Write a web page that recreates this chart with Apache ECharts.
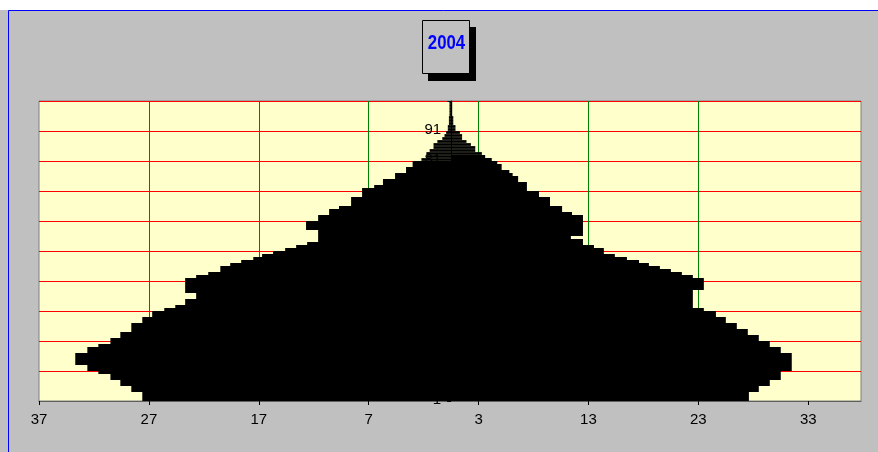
<!DOCTYPE html>
<html>
<head>
<meta charset="utf-8">
<title>2004</title>
<script src="https://cdn.jsdelivr.net/npm/echarts@6/dist/echarts.min.js"></script>
<style>
  html, body { margin: 0; padding: 0; background: #ffffff; }
  #chart { width: 878px; height: 452px; }
</style>
</head>
<body>
<div id="chart"></div>
<script>
// Year shown in the framed caption
const YEAR = '2004';

// Single-year age categories, bottom (1) to top (100)
const AGES = Array.from({ length: 100 }, (_, i) => String(i + 1));

// Left half of the pyramid, by age 1..100
const LEFT_VALUES = [
  28.1, 28.1, 28.1, 29.1, 29.1, 30.1, 30.1, 31.0, 31.0, 32.1,
  33.1, 33.1, 34.2, 34.2, 34.2, 34.2, 33.1, 33.1, 32.1, 31.0,
  31.0, 30.1, 30.1, 29.1, 29.1, 29.1, 28.1, 28.1, 27.2, 27.2,
  26.1, 25.1, 24.2, 24.2, 23.2, 23.2, 24.2, 24.2, 24.2, 24.2,
  24.2, 23.2, 22.1, 21.0, 21.0, 20.1, 19.1, 18.0, 17.2, 16.2,
  15.1, 14.1, 13.1, 12.1, 12.1, 12.1, 12.1, 13.2, 13.2, 13.2,
  12.1, 12.1, 11.1, 11.1, 10.2, 9.1, 9.1, 9.1, 8.1, 8.1,
  8.1, 7.0, 6.2, 6.2, 5.1, 5.1, 4.1, 4.1, 3.5, 3.5,
  2.7, 2.25, 2.25, 1.95, 1.6, 1.6, 1.25, 0.8, 0.6, 0.45,
  0.3, 0.3, 0.2, 0.2, 0.2, 0.15, 0.15, 0.15, 0.15, 0.15
];

// Right half of the pyramid, by age 1..100
const RIGHT_VALUES = [
  27.1, 27.1, 27.1, 28.0, 28.0, 29.0, 29.0, 30.0, 30.0, 30.0,
  31.0, 31.0, 31.0, 31.0, 31.0, 31.0, 30.0, 30.0, 29.0, 29.0,
  28.0, 28.0, 27.0, 27.0, 26.0, 26.0, 25.0, 25.0, 24.1, 24.1,
  23.0, 22.0, 22.0, 22.0, 22.0, 22.0, 22.0, 23.0, 23.0, 23.0,
  23.0, 22.0, 21.0, 20.0, 19.0, 18.0, 17.1, 16.0, 14.9, 13.9,
  13.9, 13.0, 12.0, 12.0, 10.9, 12.0, 12.0, 12.0, 12.0, 12.0,
  12.0, 12.0, 11.0, 10.1, 10.1, 9.0, 9.0, 9.0, 8.0, 8.0,
  6.9, 6.9, 6.9, 6.1, 6.1, 5.6, 5.3, 4.6, 4.6, 4.2,
  3.7, 3.1, 2.8, 2.2, 2.2, 1.8, 1.4, 1.0, 1.0, 0.8,
  0.4, 0.4, 0.2, 0.2, 0.2, 0.1, 0.1, 0.1, 0.1, 0.1
];

// Labels printed under the horizontal scale, one per major tick (left to right)
const TICK_LABELS = ['37', '27', '17', '7', '3', '13', '23', '33'];

// Extent of the value scale; major ticks sit every 10 units from the left edge
const SCALE_MIN = -37.5;
const SCALE_MAX = 37.3;
const SCALE_STEP = 10;

// Plot rectangle
const GRID = { left: 39, top: 101, width: 822, height: 300 };

const FONT = '"Liberation Sans", Arial, Helvetica, sans-serif';

// The age axis runs up the middle, where the value scale is zero
const zeroOffset = GRID.width * (0 - SCALE_MIN) / (SCALE_MAX - SCALE_MIN);

// Tick positions on the offset scale (0 = left edge of the plot)
const tickOffsets = TICK_LABELS.map((_, i) => i * SCALE_STEP);

const chart = echarts.init(document.getElementById('chart'), null, { renderer: 'canvas' });

chart.setOption({
  backgroundColor: '#C0C0C0',
  animation: false,
  graphic: [
    { type: 'rect', silent: true, z: -10, shape: { x: 0, y: 0, width: 878, height: 10 }, style: { fill: '#ffffff' } },
    { type: 'line', silent: true, shape: { x1: 8.5, y1: 10.5, x2: 878, y2: 10.5 }, style: { stroke: '#0000FF', lineWidth: 1 } },
    { type: 'line', silent: true, shape: { x1: 8.5, y1: 10.5, x2: 8.5, y2: 452 }, style: { stroke: '#0000FF', lineWidth: 1 } },
    // caption frame with its drop shadow
    { type: 'rect', silent: true, z: 10, shape: { x: 428, y: 27, width: 48, height: 54 }, style: { fill: '#000000' } },
    { type: 'rect', silent: true, z: 11, shape: { x: 422.5, y: 20.5, width: 47, height: 53 }, style: { fill: '#C0C0C0', stroke: '#000000', lineWidth: 1 } },
    {
      type: 'text', silent: true, z: 12,
      x: 446.5, y: 43.5, scaleX: 0.84,
      style: {
        text: YEAR, fill: '#0000FF', fontSize: 20, fontWeight: 'bold',
        fontFamily: FONT,
        align: 'center', verticalAlign: 'middle'
      }
    }
  ],
  grid: {
    left: GRID.left, top: GRID.top, width: GRID.width, height: GRID.height,
    show: true, backgroundColor: '#FFFFCC', borderColor: '#808080', borderWidth: 1
  },
  xAxis: [
    {
      // scale used by the bars
      type: 'value', min: SCALE_MIN, max: SCALE_MAX, position: 'top', show: false
    },
    {
      // printed scale with the major ticks and vertical grid
      type: 'value', min: 0, max: SCALE_MAX - SCALE_MIN, interval: SCALE_STEP, position: 'bottom',
      axisLine: { show: true, onZero: false, lineStyle: { color: '#606060', width: 1 } },
      axisTick: { show: true, length: 4, customValues: tickOffsets, lineStyle: { color: '#000000' } },
      axisLabel: {
        customValues: tickOffsets,
        formatter: v => { const k = Math.round(v / SCALE_STEP); return TICK_LABELS[k] !== undefined ? TICK_LABELS[k] : ''; },
        fontSize: 15, color: '#000000', margin: 11, fontFamily: FONT
      },
      splitLine: { show: true, showMinLine: false, showMaxLine: false, lineStyle: { color: '#008000', width: 1 } }
    }
  ],
  yAxis: {
    type: 'category', data: AGES, boundaryGap: true,
    position: 'left', offset: -zeroOffset,
    axisLine: { show: true, onZero: false, lineStyle: { color: '#000000', width: 1 } },
    axisTick: { show: true, interval: 9, length: 4, lineStyle: { color: '#000000' } },
    axisLabel: { interval: 9, fontSize: 15, color: '#000000', margin: 10, fontFamily: FONT },
    splitLine: { show: true, interval: 9, lineStyle: { color: '#FF0000', width: 1 } }
  },
  series: [
    {
      name: 'left', type: 'bar', xAxisIndex: 0,
      data: LEFT_VALUES.map(v => -v),
      itemStyle: { color: '#000000' },
      barGap: '-100%', barCategoryGap: '8%'
    },
    {
      name: 'right', type: 'bar', xAxisIndex: 0,
      data: RIGHT_VALUES,
      itemStyle: { color: '#000000' },
      barGap: '-100%', barCategoryGap: '8%'
    }
  ]
});
</script>
</body>
</html>
